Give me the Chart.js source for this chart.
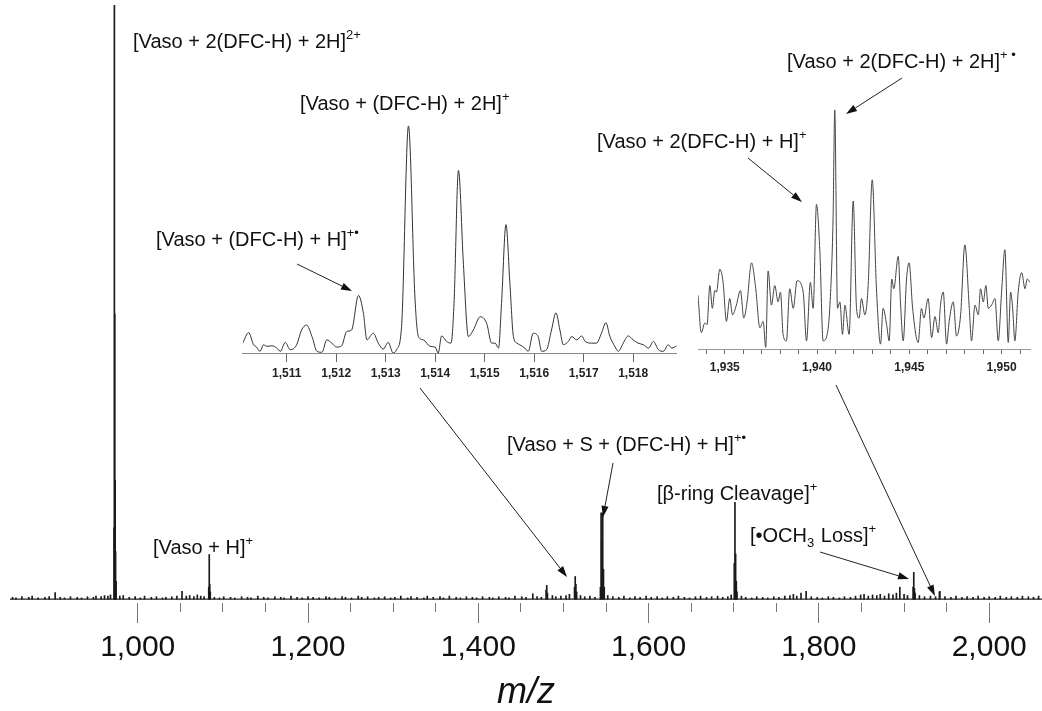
<!DOCTYPE html>
<html>
<head>
<meta charset="utf-8">
<script src="https://cdn.jsdelivr.net/npm/chart.js@4.4.1/dist/chart.umd.min.js"></script>
<style>
  html, body { margin: 0; padding: 0; background: #fff; }
  #wrap { position: relative; width: 1042px; height: 711px; overflow: hidden; }
  canvas { position: absolute; }
</style>
</head>
<body>
<div id="wrap">
  <canvas id="main" width="1042" height="711" style="left:0;top:0;width:1042px;height:711px"></canvas>
  <canvas id="inset1" width="456" height="280" style="left:232px;top:110px;width:456px;height:280px"></canvas>
  <canvas id="inset2" width="352" height="295" style="left:688px;top:95px;width:352px;height:295px"></canvas>
</div>
<script>
// main spectrum: labelled peaks (m/z, relative intensity %)
const peakMz  = [972.2, 972.6, 973.0, 973.5, 974.0, 974.6, 1083.4, 1084.0, 1084.6, 1085.2,
                 1479.6, 1480.4, 1481.2, 1513.0, 1513.8, 1514.6, 1515.5,
                 1543.4, 1544.2, 1545.0, 1546.1, 1547.0, 1547.9,
                 1700.6, 1701.4, 1702.2, 1703.0, 1703.8, 1910.6, 1911.4, 1912.2, 1913.0, 1941.5];
const peakInt = [12, 100, 48, 20, 8, 3, 2, 7.5, 2.5, 1.2,
                 1.5, 2.3, 1, 2, 3.8, 2.5, 1.2,
                 2, 14.5, 10, 14.5, 5, 2,
                 6, 16.3, 7.6, 3, 1.2, 2, 4.5, 1.8, 1, 1.2];

// baseline noise spikes
const noiseMz  = [853, 857, 864, 872, 876, 883, 891, 896, 903, 909,
                  914, 921, 929, 934, 941, 948, 951, 957, 961, 965,
                  968, 979, 983, 990, 997, 1003, 1008, 1016, 1022, 1029,
                  1033, 1040, 1046, 1052, 1057, 1061, 1066, 1070, 1074, 1078,
                  1090, 1096, 1101, 1109, 1114, 1122, 1129, 1133, 1141, 1148,
                  1153, 1161, 1168, 1172, 1180, 1187, 1193, 1200, 1206, 1213,
                  1221, 1225, 1232, 1240, 1244, 1251, 1259, 1263, 1270, 1278,
                  1283, 1290, 1297, 1302, 1309, 1317, 1321, 1328, 1336, 1340,
                  1347, 1355, 1359, 1366, 1374, 1379, 1386, 1393, 1398, 1405,
                  1413, 1417, 1424, 1432, 1436, 1443, 1451, 1456, 1464, 1469,
                  1474, 1487, 1491, 1497, 1503, 1507, 1520, 1525, 1531, 1537,
                  1552, 1558, 1565, 1571, 1578, 1584, 1590, 1597, 1603, 1610,
                  1616, 1622, 1629, 1635, 1642, 1648, 1655, 1661, 1668, 1674,
                  1681, 1687, 1693, 1697, 1709, 1714, 1721, 1727, 1734, 1740,
                  1747, 1753, 1760, 1766, 1770, 1774, 1779, 1785, 1791, 1798,
                  1804, 1811, 1817, 1824, 1830, 1837, 1843, 1849, 1853, 1858,
                  1863, 1868, 1872, 1877, 1882, 1887, 1891, 1895, 1900, 1904,
                  1918, 1924, 1931, 1937, 1942, 1948, 1955, 1961, 1968, 1974,
                  1981, 1987, 1994, 2000, 2007, 2013, 2020, 2026, 2033, 2039,
                  2046, 2052, 2058];
const noiseInt = [.3, .2, .4, .3, .5, .2, .3, .4, 1.1, .3,
                  .2, .4, .3, .2, .4, .3, .5, .4, .6, .5,
                  .7, .5, .6, .3, .4, .2, .5, .3, .4, .2,
                  .3, .4, .5, 1.3, .5, .6, .4, .7, .5, .4,
                  .3, .2, .4, .3, .2, .4, .3, .2, .5, .3,
                  .2, .4, .3, .2, .5, .3, .2, .4, .3, .2,
                  .4, .3, .2, .4, .3, .2, .5, .3, .4, .2,
                  .3, .4, .2, .3, .5, .2, .4, .3, .2, .5,
                  .3, .4, .2, .5, .3, .2, .4, .3, .2, .4,
                  .3, .2, .4, .3, .2, .5, .4, .3, .9, .4,
                  .3, .6, .4, .5, .6, .8, .6, .4, .5, .3,
                  .6, .4, .3, .5, .2, .4, .3, .5, .3, .4,
                  .2, .4, .3, .5, .3, .2, .4, .5, .3, .4,
                  .5, .3, .4, .7, .5, .3, .2, .4, .3, .2,
                  .4, .3, .5, .6, .8, .5, 1.0, 1.3, .4, .3,
                  .2, .4, .3, .2, .4, .3, .5, .7, .8, .5,
                  .7, .6, .8, .5, .9, .7, 1.0, 2.0, .8, .6,
                  .6, .4, .5, .4, 1.3, .4, .3, .5, .3, .4,
                  .3, .5, .3, .4, .3, .5, .3, .4, .3, .5,
                  .4, .3, .5];

const xMajorTicks = [1000, 1200, 1400, 1600, 1800, 2000];
const xMinorTicks = [1050, 1100, 1150, 1250, 1300, 1350, 1450, 1500, 1550, 1650, 1700, 1750, 1850, 1900, 1950];

// inset 1: 1510 - 1519 region
const in1Mz = [1510.11, 1510.23, 1510.33, 1510.39, 1510.46, 1510.53, 1510.60, 1510.70, 1510.80, 1510.87,
               1510.97, 1511.07, 1511.20, 1511.30, 1511.40, 1511.51, 1511.61, 1511.71, 1511.81, 1511.91,
               1512.01, 1512.11, 1512.21, 1512.31, 1512.45, 1512.55, 1512.62, 1512.75, 1512.85, 1512.95,
               1513.05, 1513.15, 1513.22, 1513.32, 1513.46, 1513.59, 1513.66, 1513.76, 1513.90, 1514.00,
               1514.06, 1514.13, 1514.23, 1514.32, 1514.38, 1514.47, 1514.57, 1514.67, 1514.77, 1514.91,
               1515.04, 1515.14, 1515.21, 1515.28, 1515.34, 1515.43, 1515.51, 1515.58, 1515.65, 1515.71,
               1515.81, 1515.88, 1515.98, 1516.08, 1516.15, 1516.25, 1516.35, 1516.44, 1516.52, 1516.59,
               1516.69, 1516.76, 1516.86, 1516.96, 1517.03, 1517.16, 1517.26, 1517.36, 1517.45, 1517.53,
               1517.63, 1517.70, 1517.80, 1517.90, 1518.00, 1518.10, 1518.21, 1518.31, 1518.41, 1518.51,
               1518.61, 1518.71, 1518.78, 1518.88];
const in1Int = [10, 20.7, 8.3, 6, 1.7, 8.3, 6.7, 7.3, 5, 1.7,
                10.7, 3.3, 8.3, 23.3, 28.3, 16.7, 1.7, 0.7, 13.3, 10,
                6, 7.3, 21.7, 23.3, 58.3, 40, 13.3, 20, 10, 4,
                10.7, 0, 3.3, 26.7, 230, 56.7, 16.7, 13.3, 6.7, 6,
                0, 17.3, 11.7, 10, 50, 185, 90, 16.7, 23.3, 36.7,
                30, 10, 10, 5, 50, 130, 70, 16.7, 10, 8.3,
                5, 1.7, 20, 16.7, 1.7, 3.3, 23.3, 40.7, 23.3, 8.3,
                11.7, 16.7, 13.3, 17.3, 11.7, 10, 10, 20, 30.7, 16.7,
                6.7, 1.7, 10, 17.3, 13.3, 10, 8.3, 5, 11.7, 3.3,
                1.7, 8.3, 5, 7.3];
const in1Ticks = [1511, 1512, 1513, 1514, 1515, 1516, 1517, 1518];

// inset 2: 1933 - 1952 region
const in2Mz = [1933.55, 1933.73, 1933.92, 1934.04, 1934.19, 1934.33, 1934.46, 1934.55, 1934.73, 1934.91,
               1935.09, 1935.27, 1935.42, 1935.63, 1935.85, 1936.03, 1936.21, 1936.45, 1936.68, 1936.90,
               1937.08, 1937.22, 1937.35, 1937.53, 1937.71, 1937.89, 1938.02, 1938.16, 1938.34, 1938.52,
               1938.71, 1938.92, 1939.25, 1939.43, 1939.64, 1939.79, 1939.97, 1940.15, 1940.33, 1940.55,
               1940.69, 1940.87, 1940.96, 1941.11, 1941.24, 1941.38, 1941.51, 1941.74, 1941.96, 1942.14,
               1942.28, 1942.41, 1942.59, 1942.77, 1942.99, 1943.22, 1943.44, 1943.58, 1943.77, 1943.91,
               1944.05, 1944.16, 1944.40, 1944.52, 1944.67, 1944.85, 1944.99, 1945.18, 1945.48, 1945.66,
               1945.79, 1946.02, 1946.21, 1946.39, 1946.57, 1946.69, 1946.84, 1947.02, 1947.16, 1947.38,
               1947.56, 1947.78, 1948.01, 1948.25, 1948.37, 1948.56, 1948.74, 1948.86, 1949.01, 1949.15,
               1949.28, 1949.46, 1949.64, 1949.82, 1950.00, 1950.18, 1950.36, 1950.49, 1950.60, 1950.72,
               1950.90, 1951.09, 1951.27, 1951.39, 1951.54];
const in2Int = [55, 16.7, 26.7, 25, 65, 41.7, 60, 58.3, 81.7, 68.3,
                28.3, 51.7, 35, 45, 60, 31.7, 48.3, 88.3, 61.7, 21.7,
                28.3, 1.7, 80, 45, 65, 48.3, 58.3, 15, 8.3, 61.7,
                41.7, 70, 58.3, 8.3, 68.3, 41.7, 148.3, 101.7, 8.3, 15,
                41.7, 135, 245, 41.7, 48.3, 15, 45, 15, 151.7, 41.7,
                31.7, 51.7, 35, 65, 173.3, 61.7, 5, 41.7, 25, 8.3,
                71.7, 61.7, 95, 48.3, 8.3, 71.7, 88.3, 41.7, 6.7, 41.7,
                31.7, 51.7, 11.7, 33.3, 16.7, 45, 58.3, 5, 28.3, 48.3,
                13.3, 35, 106.7, 41.7, 8.3, 45, 35, 61.7, 48.3, 65,
                41.7, 45, 51.7, 8.3, 58.3, 101.7, 6.7, 58.3, 41.7, 8.3,
                58.3, 78.3, 61.7, 71.7, 68.3];
const in2Ticks = [1934, 1935, 1936, 1937, 1938, 1939, 1940, 1941, 1942, 1943, 1944, 1945, 1946, 1947, 1948, 1949, 1950, 1951];
const in2Labelled = [1935, 1940, 1945, 1950];

// annotations: text segments ['n' normal, 'sup', 'sub'], baseline position in px
const labels = [
  { x: 133, y: 48,  parts: [['[Vaso + 2(DFC-H) + 2H]', 'n'], ['2+', 'sup']] },
  { x: 300, y: 110, parts: [['[Vaso + (DFC-H) + 2H]', 'n'], ['+', 'sup']] },
  { x: 156, y: 246, parts: [['[Vaso + (DFC-H) + H]', 'n'], ['+\u2022', 'sup']] },
  { x: 787, y: 68,  parts: [['[Vaso + 2(DFC-H) + 2H]', 'n'], ['+ \u2022', 'sup']] },
  { x: 597, y: 148, parts: [['[Vaso + 2(DFC-H) + H]', 'n'], ['+', 'sup']] },
  { x: 153, y: 554, parts: [['[Vaso + H]', 'n'], ['+', 'sup']] },
  { x: 507, y: 451, parts: [['[Vaso + S + (DFC-H) + H]', 'n'], ['+\u2022', 'sup']] },
  { x: 657, y: 500, parts: [['[\u03B2-ring Cleavage]', 'n'], ['+', 'sup']] },
  { x: 750, y: 542, parts: [['[\u2022OCH', 'n'], ['3', 'sub'], [' Loss]', 'n'], ['+', 'sup']] }
];
const arrows = [
  [297, 264, 352, 291],
  [420, 388, 567, 577],
  [613, 463, 603, 517],
  [820, 552, 909, 579],
  [836, 385, 935, 596],
  [902, 78, 846, 114],
  [748, 158, 802, 202]
];

const family = "'Liberation Sans', Arial, Helvetica, sans-serif";
const fmt = v => v.toLocaleString('en-US');

function drawLabel(ctx, l) {
    let x = l.x;
    l.parts.forEach(([t, kind]) => {
        const small = kind !== 'n';
        ctx.font = (small ? 13 : 20) + 'px ' + family;
        const dy = kind === 'sup' ? -9 : kind === 'sub' ? 5 : 0;
        ctx.fillText(t, x, l.y + dy);
        x += ctx.measureText(t).width + (small ? 1 : 0);
    });
}

function drawArrow(ctx, [x1, y1, x2, y2]) {
    const a = Math.atan2(y2 - y1, x2 - x1);
    const len = 11, hw = 3.6;
    const bx = x2 - Math.cos(a) * len, by = y2 - Math.sin(a) * len;
    ctx.beginPath();
    ctx.moveTo(x1, y1);
    ctx.lineTo(bx, by);
    ctx.stroke();
    ctx.beginPath();
    ctx.moveTo(x2, y2);
    ctx.lineTo(bx + Math.sin(a) * hw, by - Math.cos(a) * hw);
    ctx.lineTo(bx - Math.sin(a) * hw, by + Math.cos(a) * hw);
    ctx.closePath();
    ctx.fill();
}

const annotate = {
    id: 'annotate',
    afterDraw(chart) {
        const ctx = chart.ctx;
        ctx.save();
        ctx.fillStyle = '#111';
        ctx.strokeStyle = '#222';
        ctx.lineWidth = 1;
        ctx.textBaseline = 'alphabetic';
        ctx.textAlign = 'left';
        labels.forEach(l => drawLabel(ctx, l));
        arrows.forEach(a => drawArrow(ctx, a));
        ctx.restore();
    }
};

const sticks = peakMz.map((m, i) => ({ x: m, y: peakInt[i] }))
    .concat(noiseMz.map((m, i) => ({ x: m, y: noiseInt[i] })))
    .sort((a, b) => a.x - b.x);
const xTicks = xMajorTicks.concat(xMinorTicks).sort((a, b) => a - b);

new Chart(document.getElementById('main'), {
    type: 'bar',
    data: {
        datasets: [
            { type: 'bar', data: sticks, backgroundColor: '#1a1a1a', borderWidth: 0, barThickness: 1, grouped: false, order: 1 },
            { type: 'line', data: [{ x: 850, y: 0 }, { x: 2062, y: 0 }], borderColor: '#222', borderWidth: 1.4, pointRadius: 0, order: 2 }
        ]
    },
    options: {
        responsive: false, animation: false,
        layout: { padding: { left: 10, right: 0, top: 5, bottom: 0 } },
        plugins: { legend: { display: false }, tooltip: { enabled: false } },
        scales: {
            x: {
                type: 'linear', min: 850, max: 2062, offset: false,
                afterBuildTicks: s => { s.ticks = xTicks.map(v => ({ value: v, major: xMajorTicks.includes(v) })); },
                grid: {
                    offset: false, drawOnChartArea: false, tickLength: 20, tickColor: '#777', tickWidth: 1,
                    tickBorderDash: c => (c.tick && xMajorTicks.includes(c.tick.value)) ? [] : [9, 40]
                },
                border: { display: false },
                ticks: {
                    autoSkip: false, maxRotation: 0, padding: 10, color: '#111',
                    font: { family, size: 30, lineHeight: 1 },
                    callback: v => xMajorTicks.includes(v) ? fmt(v) : ''
                },
                title: {
                    display: true, text: 'm/z', color: '#111',
                    font: { family, size: 36, style: 'italic', lineHeight: 1 },
                    padding: { top: 2, bottom: 0 }
                }
            },
            y: { display: false, min: -0.66, max: 100 }
        }
    },
    plugins: [annotate]
});

function inset(id, mz, ints, ticks, labelled, opts) {
    return new Chart(document.getElementById(id), {
        type: 'line',
        data: {
            datasets: [{
                data: mz.map((m, i) => ({ x: m, y: ints[i] })),
                borderColor: opts.color, borderWidth: 1, pointRadius: 0,
                cubicInterpolationMode: 'monotone'
            }]
        },
        options: {
            responsive: false, animation: false,
            layout: { padding: opts.padding },
            plugins: { legend: { display: false }, tooltip: { enabled: false } },
            scales: {
                x: {
                    type: 'linear', min: mz[0], max: mz[mz.length - 1],
                    afterBuildTicks: s => { s.ticks = ticks.map(v => ({ value: v })); },
                    grid: { offset: false, drawOnChartArea: false, tickLength: opts.tickLength, tickColor: '#666' },
                    border: { display: true, color: opts.borderColor, width: 1, dash: opts.dash },
                    ticks: {
                        autoSkip: false, maxRotation: 0, padding: opts.tickPad, color: '#222',
                        font: { family, size: 12, weight: 'bold' },
                        callback: v => labelled.includes(v) ? fmt(v) : ''
                    }
                },
                y: { display: false, min: 0, max: opts.yMax }
            }
        }
    });
}

inset('inset1', in1Mz, in1Int, in1Ticks, in1Ticks, {
    color: '#333', padding: { left: 10.7, right: 11.3, top: 11, bottom: 5.6 },
    tickLength: 9, tickPad: 4, borderColor: '#888', dash: [1, 2], yMax: 235
});
inset('inset2', in2Mz, in2Int, in2Ticks, in2Labelled, {
    color: '#444', padding: { left: 10, right: 10, top: 10, bottom: 9.6 },
    tickLength: 5, tickPad: 6, borderColor: '#999', dash: [], yMax: 250
});
</script>
</body>
</html>
